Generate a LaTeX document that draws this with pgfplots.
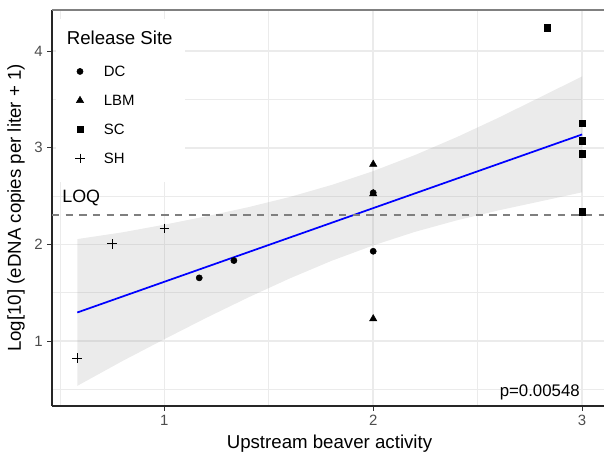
\documentclass[border=0pt]{standalone}
\usepackage{fontspec}
\setmainfont{Liberation Sans}
\usepackage{pgfplots}
\pgfplotsset{compat=1.18}

\definecolor{gridgray}{RGB}{235,235,235}
\definecolor{bandgray}{RGB}{153,153,153}
\definecolor{ticklab}{RGB}{77,77,77}
\definecolor{tickgray}{RGB}{51,51,51}
\definecolor{loqgray}{RGB}{127,127,127}

% legend image: one mark, fixed cell width
\pgfplotsset{
  sitelegend/.style={legend image code/.code={
      \path (-8pt,0pt) (17.55pt,0pt);
      \draw[##1] plot coordinates {(0pt,0pt)};}},
}

\begin{document}
\begin{tikzpicture}
\begin{axis}[
    scale only axis,
    width=414pt, height=297pt,
    xmin=0.462, xmax=3.105,
    ymin=0.33, ymax=4.425,
    axis lines*=left,
    axis line style={black!85, line width=0.8pt},
    xtick={1,2,3}, ytick={1,2,3,4},
    minor xtick={0.5,1.5,2.5}, minor ytick={0.5,1.5,2.5,3.5},
    minor tick length=0pt, major tick length=3.5pt,
    tick align=outside,
    tick style={tickgray, line width=0.8pt},
    grid=both,
    major grid style={gridgray, line width=1.2pt},
    minor grid style={gridgray, line width=0.6pt},
    tick label style={font=\fontsize{11.2}{13}\selectfont, text=ticklab},
    /pgf/number format/assume math mode=true,
    xlabel={Upstream beaver activity},
    ylabel={Log[10] (eDNA copies per liter + 1)},
    label style={font=\fontsize{14}{16}\selectfont},
    xlabel style={at={(rel axis cs:0.5027,-0.1076)}, anchor=base},
    ylabel style={at={(rel axis cs:-0.0652,0.5)}, anchor=center},
    legend style={at={(rel axis cs:0,1)}, anchor=north west,
        xshift=3pt, yshift=-6.75pt, draw=none, fill=white,
        inner xsep=9.5pt, inner ysep=6.5pt, row sep=0pt,
        font=\fontsize{11.2}{13}\selectfont,
        nodes={inner sep=0pt, text height=14.98pt, text depth=6.78pt}},
    legend cell align=left,
]
\addlegendimage{empty legend}
\addlegendentry{\raisebox{2.3pt}{\fontsize{14}{16}\selectfont\hspace*{-27.75pt}Release Site}}

% confidence band of the linear fit
\addplot[forget plot, draw=none, fill=bandgray, fill opacity=0.2] coordinates {
    (0.583,2.056) (0.8,2.126) (1.0,2.205) (1.2,2.291) (1.4,2.385)
    (1.6,2.491) (1.8,2.615) (2.0,2.759) (2.2,2.925) (2.4,3.110)
    (2.6,3.311) (2.8,3.524) (3.0,3.738)
    (3.0,2.540) (2.8,2.446) (2.6,2.353) (2.4,2.250) (2.2,2.131)
    (2.0,1.991) (1.8,1.831) (1.6,1.649) (1.4,1.451) (1.2,1.241)
    (1.0,1.021) (0.8,0.796) (0.583,0.538)
};
% fitted line
\addplot[forget plot, blue, line width=1.3pt] coordinates {(0.583,1.297) (3,3.138)};
% LOQ
\addplot[forget plot, loqgray, line width=1.4pt, dash pattern=on 5.5pt off 4.75pt]
    coordinates {(0.462,2.303) (3.105,2.303)};

\addplot[sitelegend, only marks, mark=*, mark size=2.3pt, black] coordinates {
    (1.167,1.655) (1.333,1.834) (2,1.93)
};
\addlegendentry{DC}
\addplot[sitelegend, only marks, mark=triangle*, mark size=3.1pt, black] coordinates {
    (2,2.83) (2,2.525) (2,1.232)
};
\addlegendentry{LBM}
\addplot[sitelegend, only marks, mark=square*, mark size=2.4pt, black] coordinates {
    (2.833,4.241) (3,3.252) (3,3.072) (3,2.94) (3,2.34)
};
\addlegendentry{SC}
\addplot[sitelegend, only marks, mark=+, mark size=3.6pt, black, line width=0.6pt] coordinates {
    (0.583,0.824) (0.75,2.007) (1,2.166)
};
\addlegendentry{SH}
% DC point drawn over the LBM triangle at x = 2
\addplot[forget plot, only marks, mark=*, mark size=2.3pt, black] coordinates {(2,2.535)};

\draw[black!50, line width=0.8pt] (rel axis cs:0,1) -- (rel axis cs:1,1);
\node[anchor=base west, inner sep=0pt, font=\fontsize{13.4}{15}\selectfont]
    at (axis cs:0.5105,2.435) {LOQ};
\node[anchor=base east, inner sep=0pt, font=\fontsize{12.6}{15}\selectfont]
    at (axis cs:2.99,0.431) {p=0.00548};

\coordinate (bl) at (rel axis cs:0,0);
\coordinate (tr) at (rel axis cs:1,1);
\end{axis}
\pgfresetboundingbox
\path ([xshift=-39pt,yshift=-35.25pt]bl) rectangle ([yshift=7.5pt]tr);
\end{tikzpicture}
\end{document}
